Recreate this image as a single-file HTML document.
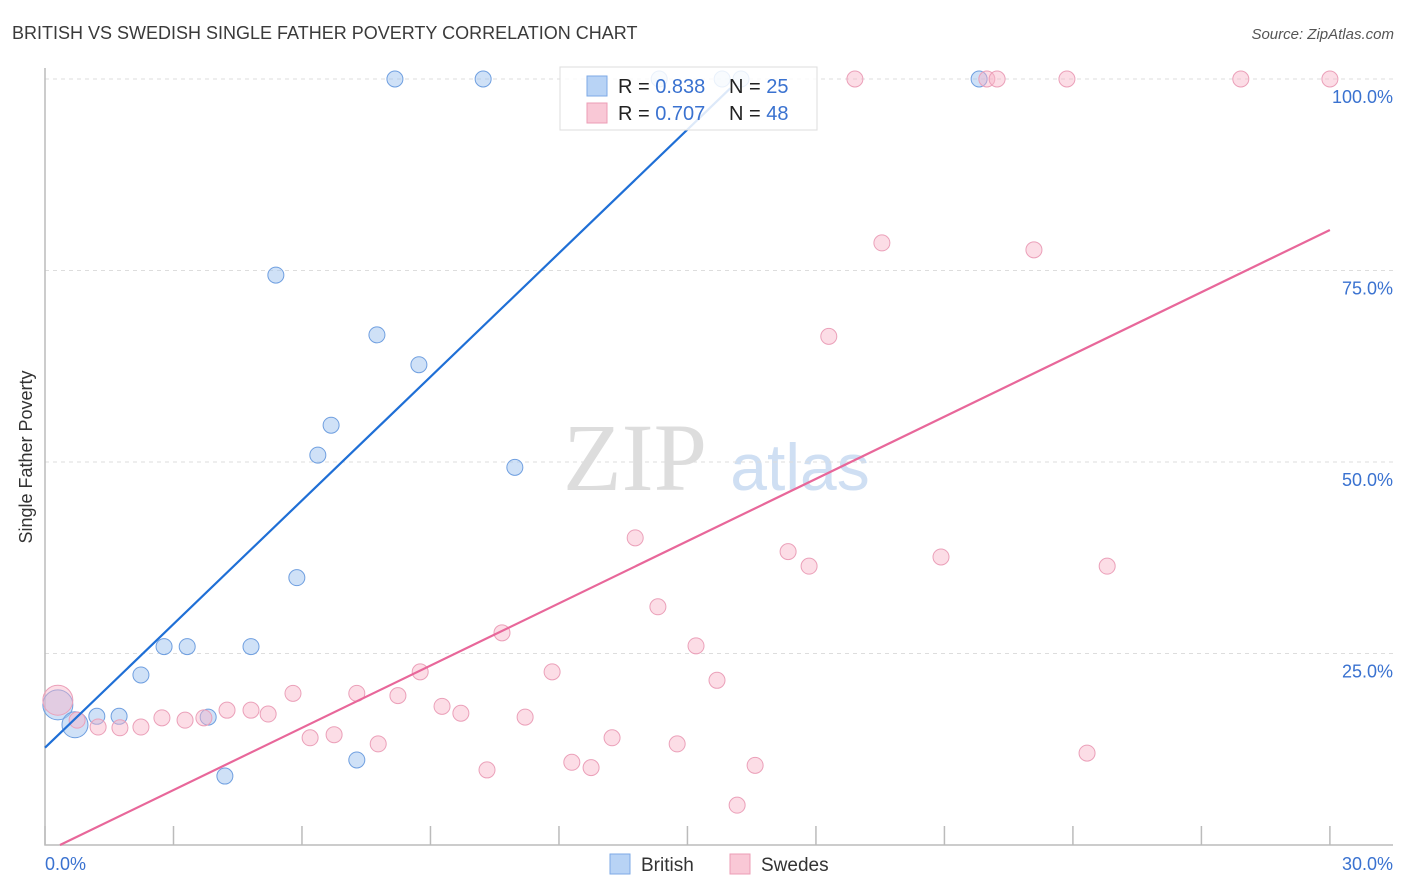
<!DOCTYPE html>
<html><head><meta charset="utf-8"><style>
body{margin:0;background:#fff;font-family:"Liberation Sans",sans-serif;}
svg{display:block}
</style></head><body>
<svg id="c" width="1406" height="892">
<text x="12" y="39" font-size="18" fill="#3a3a3a">BRITISH VS SWEDISH SINGLE FATHER POVERTY CORRELATION CHART</text>
<text x="1394" y="39" font-size="15" fill="#555" font-style="italic" text-anchor="end">Source: ZipAtlas.com</text>
<text x="32" y="457" font-size="18" fill="#333" transform="rotate(-90 32 457)" text-anchor="middle">Single Father Poverty</text>
<text x="635" y="490" font-size="96" fill="#ddd" font-family="Liberation Serif,serif" text-anchor="middle">ZIP</text>
<text x="800" y="490" font-size="66" fill="#cfdff3" text-anchor="middle">atlas</text>
<g id="grid"></g><g id="axes"></g><g id="pts"></g><g id="lines"></g>
<g>
<rect x="560" y="67" width="257" height="63" fill="#fff" fill-opacity="0.85" stroke="#ddd"/>
<rect x="587" y="76" width="20" height="20" fill="#b8d3f5" stroke="#7ea9e6"/>
<rect x="587" y="103" width="20" height="20" fill="#f9c8d6" stroke="#ec9db6"/>
<text x="618" y="93" font-size="20" fill="#222">R = <tspan fill="#3a72d0">0.838</tspan></text>
<text x="729" y="93" font-size="20" fill="#222">N = <tspan fill="#3a72d0"> 25</tspan></text>
<text x="618" y="120" font-size="20" fill="#222">R = <tspan fill="#3a72d0">0.707</tspan></text>
<text x="729" y="120" font-size="20" fill="#222">N = <tspan fill="#3a72d0"> 48</tspan></text>
</g>
<g>
<rect x="610" y="854" width="20" height="20" fill="#b8d3f5" stroke="#7ea9e6"/>
<text x="641" y="871" font-size="19" fill="#333">British</text>
<rect x="730" y="854" width="20" height="20" fill="#f9c8d6" stroke="#ec9db6"/>
<text x="761" y="871" font-size="19" fill="#333">Swedes</text>
</g>
</svg>
<script>
const xTicks=[0,3,6,9,12,15,18,21,24,27,30];
const yTicks=[25,50,75,100];
const yTickLabels=["25.0%","50.0%","75.0%","100.0%"];
const britX=[8.17,10.23,14.34,15.81,16.25,21.81,5.39,7.75,8.73,6.68,6.37,10.97,5.88,2.78,3.32,4.81,2.24,1.21,1.73,3.81,4.20,7.28,0.30,0.70];
const britY=[100,100,100,100,100,100,74.4,66.6,62.7,54.8,50.9,49.3,34.9,25.9,25.9,25.9,22.2,16.8,16.8,16.7,9.0,11.1,18.3,15.7];
const britR=[8,8,8,8,8,8,8,8,8,8,8,8,8,8,8,8,8,8,8,8,8,8,15,13];
const swX=[18.91,21.99,22.23,23.86,27.92,30.0,19.54,23.09,18.30,13.78,17.35,20.92,17.84,24.80,14.31,10.67,15.20,11.84,8.76,15.69,5.79,7.28,8.24,9.27,9.71,4.25,4.81,5.21,2.73,3.27,3.71,11.21,6.75,6.19,7.78,13.24,14.76,24.33,10.32,12.30,12.75,16.58,16.16,0.30,0.75,1.24,1.75,2.24];
const swY=[100,100,100,100,100,100,78.6,77.7,66.4,40.1,38.3,37.6,36.4,36.4,31.1,27.7,26.0,22.6,22.6,21.5,19.8,19.8,19.5,18.1,17.2,17.6,17.6,17.1,16.6,16.3,16.6,16.7,14.4,14.0,13.2,14.0,13.2,12.0,9.8,10.8,10.1,10.4,5.2,18.9,16.3,15.4,15.3,15.4];
const britLine=[12.7,5.38,0,16.0];   // intercept, slope, x0, x1
const swLine=[-0.95,2.708,0.35,30];
const X=v=>45+v*42.83, Y=v=>845-v*7.66;
const NS="http://www.w3.org/2000/svg";
function mk(p,t,a){const e=document.createElementNS(NS,t);for(const k in a)e.setAttribute(k,a[k]);document.getElementById(p).appendChild(e);return e;}
yTicks.forEach((t,i)=>{
 const g=mk('grid','line',{x1:45,x2:1393,y1:Y(t),y2:Y(t),stroke:'#ddd','stroke-dasharray':'4,4'});
 
 
 const l=mk('grid','text',{x:1393,y:Y(t)+24,'font-size':18,fill:'#3a72d0','text-anchor':'end'});
 l.textContent=yTickLabels[i];
 
 
});
const ax=mk('axes','path',{d:'M45 68V845H1393',stroke:'#bbb',fill:'none','stroke-width':1.5});


xTicks.forEach(t=>{
 const k=mk('axes','line',{x1:X(t),x2:X(t),y1:826,y2:845,stroke:'#bbb','stroke-width':1.5});
 
 
});
[[0,'0.0%','start',45],[30,'30.0%','end',1393]].forEach(d=>{
 const l=mk('axes','text',{x:d[3],y:870,'font-size':18,fill:'#3a72d0','text-anchor':d[2]});
 l.textContent=d[1];
 
 
});
britX.forEach((v,i)=>{
 const c=mk('pts','circle',{cx:X(v),cy:Y(britY[i]),r:britR[i],fill:'rgba(160,196,240,0.5)',stroke:'#6f9fe0','stroke-width':1});
 
 
});
swX.forEach((v,i)=>{
 const c=mk('pts','circle',{cx:X(v),cy:Y(swY[i]),r:i==43?15:8,fill:'rgba(248,180,200,0.45)',stroke:'#eba0b9','stroke-width':1});
 
 
});
[[britLine,'#1f6fd6','british-trendline'],[swLine,'#e8679a','swedes-trendline']].forEach(d=>{
 const [b,m,x0,x1]=d[0];
 const l=mk('lines','line',{x1:X(x0),y1:Y(b+m*x0),x2:X(x1),y2:Y(b+m*x1),stroke:d[1],'stroke-width':2.2});
 
 
});
</script>
</body></html>
